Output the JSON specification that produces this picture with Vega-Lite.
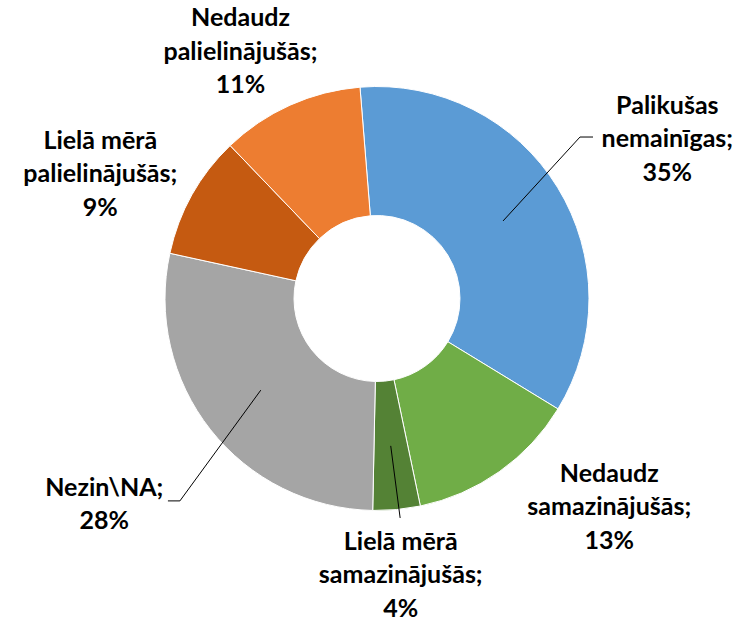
{
  "$schema": "https://vega.github.io/schema/vega-lite/v6.json",
  "width": 724,
  "height": 597,
  "autosize": "none",
  "padding": {"left": 15, "top": 0, "right": 0, "bottom": 21},
  "background": "white",
  "config": {
    "view": {"stroke": null},
    "text": {"font": "Lato", "fontWeight": "bold", "fontSize": 25, "lineHeight": 33.5, "lineBreak": "\n", "color": "#000000", "align": "center", "baseline": "middle"}
  },
  "data": {
    "values": [
      {"order": 1, "category": "Palikušas nemainīgas", "value": 35.0, "label": "Palikušas\nnemainīgas;\n35%"},
      {"order": 2, "category": "Nedaudz samazinājušās", "value": 13.0, "label": "Nedaudz\nsamazinājušās;\n13%"},
      {"order": 3, "category": "Lielā mērā samazinājušās", "value": 3.6, "label": "Lielā mērā\nsamazinājušās;\n4%"},
      {"order": 4, "category": "Nezin\\NA", "value": 28.1, "label": "Nezin\\NA;\n28%"},
      {"order": 5, "category": "Lielā mērā palielinājušās", "value": 9.4, "label": "Lielā mērā\npalielinājušās;\n9%"},
      {"order": 6, "category": "Nedaudz palielinājušās", "value": 10.9, "label": "Nedaudz\npalielinājušās;\n11%"}
    ]
  },
  "transform": [
    {"window": [{"op": "sum", "field": "value", "as": "cum"}], "sort": [{"field": "order", "order": "ascending"}], "frame": [null, 0]},
    {"calculate": "datum.cum - datum.value", "as": "start"},
    {"calculate": "datum.cum - datum.value / 2", "as": "mid"}
  ],
  "layer": [
    {
      "mark": {"type": "arc", "radius": 212, "radius2": 83, "stroke": "#ffffff", "strokeWidth": 1},
      "encoding": {
        "theta": {"field": "start", "type": "quantitative", "stack": null, "scale": {"domain": [0, 100], "range": [-0.0803, 6.2029]}},
        "theta2": {"field": "cum"},
        "color": {
          "field": "category", "type": "nominal", "legend": null,
          "scale": {
            "domain": ["Palikušas nemainīgas", "Nedaudz samazinājušās", "Lielā mērā samazinājušās", "Nezin\\NA", "Lielā mērā palielinājušās", "Nedaudz palielinājušās"],
            "range": ["#5B9BD5", "#70AD47", "#548235", "#A5A5A5", "#C55A11", "#ED7D31"]
          }
        }
      }
    },
    {
      "transform": [{"filter": "datum.order == 1"}],
      "mark": {"type": "text", "radius": 331.5, "dx": 8, "dy": -19},
      "encoding": {
        "theta": {"field": "mid", "type": "quantitative", "stack": null, "scale": {"domain": [0, 100], "range": [-0.0803, 6.2029]}},
        "text": {"field": "label", "type": "nominal"}
      }
    },
    {
      "transform": [{"filter": "datum.order == 2"}],
      "mark": {"type": "text", "radius": 311, "dx": 53, "dy": -79},
      "encoding": {
        "theta": {"field": "mid", "type": "quantitative", "stack": null, "scale": {"domain": [0, 100], "range": [-0.0803, 6.2029]}},
        "text": {"field": "label", "type": "nominal"}
      }
    },
    {
      "transform": [{"filter": "datum.order == 3"}],
      "mark": {"type": "text", "radius": 277.5, "dx": -2, "dy": -33},
      "encoding": {
        "theta": {"field": "mid", "type": "quantitative", "stack": null, "scale": {"domain": [0, 100], "range": [-0.0803, 6.2029]}},
        "text": {"field": "label", "type": "nominal"}
      }
    },
    {
      "transform": [{"filter": "datum.order == 4"}],
      "mark": {"type": "text", "radius": 341, "dx": -5, "dy": -22},
      "encoding": {
        "theta": {"field": "mid", "type": "quantitative", "stack": null, "scale": {"domain": [0, 100], "range": [-0.0803, 6.2029]}},
        "text": {"field": "label", "type": "nominal"}
      }
    },
    {
      "transform": [{"filter": "datum.order == 5"}],
      "mark": {"type": "text", "radius": 304.5, "dx": -11, "dy": -9},
      "encoding": {
        "theta": {"field": "mid", "type": "quantitative", "stack": null, "scale": {"domain": [0, 100], "range": [-0.0803, 6.2029]}},
        "text": {"field": "label", "type": "nominal"}
      }
    },
    {
      "transform": [{"filter": "datum.order == 6"}],
      "mark": {"type": "text", "radius": 284, "dx": -20, "dy": -21},
      "encoding": {
        "theta": {"field": "mid", "type": "quantitative", "stack": null, "scale": {"domain": [0, 100], "range": [-0.0803, 6.2029]}},
        "text": {"field": "label", "type": "nominal"}
      }
    },
    {
      "transform": [
        {"filter": "datum.order == 1 || datum.order == 3 || datum.order == 4"},
        {"calculate": "-0.0803 + datum.mid / 100 * 2 * PI", "as": "a"},
        {"calculate": "datum.order == 1 ? -6.9 : datum.order == 4 ? -7.5 : -0.7", "as": "da"},
        {"calculate": "datum.order == 1 ? 259.4 : datum.order == 4 ? 282.5 : 220.7", "as": "r1"},
        {"calculate": "datum.order == 1 ? 13 : datum.order == 4 ? -12 : 0", "as": "tick"},
        {"calculate": "148 * sin(datum.a)", "as": "x0"},
        {"calculate": "148 * cos(datum.a)", "as": "y0"},
        {"calculate": "datum.r1 * sin(datum.a + datum.da * PI / 180)", "as": "x1"},
        {"calculate": "datum.r1 * cos(datum.a + datum.da * PI / 180)", "as": "y1"},
        {"calculate": "datum.x1 + datum.tick", "as": "x2"}
      ],
      "layer": [
        {
          "mark": {"type": "rule", "color": "#000000", "strokeWidth": 1},
          "encoding": {
            "x": {"field": "x0", "type": "quantitative", "scale": {"domain": [-362, 362], "nice": false, "zero": false}, "axis": null},
            "y": {"field": "y0", "type": "quantitative", "scale": {"domain": [-298.5, 298.5], "nice": false, "zero": false}, "axis": null},
            "x2": {"field": "x1"},
            "y2": {"field": "y1"}
          }
        },
        {
          "mark": {"type": "rule", "color": "#000000", "strokeWidth": 1},
          "encoding": {
            "x": {"field": "x1", "type": "quantitative", "scale": {"domain": [-362, 362], "nice": false, "zero": false}, "axis": null},
            "y": {"field": "y1", "type": "quantitative", "scale": {"domain": [-298.5, 298.5], "nice": false, "zero": false}, "axis": null},
            "x2": {"field": "x2"},
            "y2": {"field": "y1"}
          }
        }
      ]
    }
  ]
}
